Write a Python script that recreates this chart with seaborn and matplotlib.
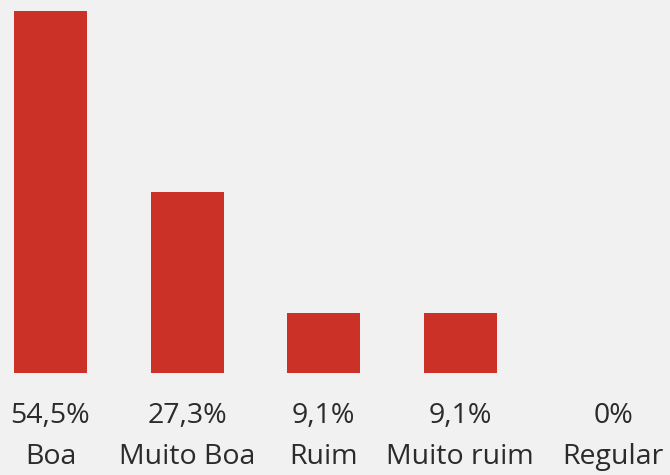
import matplotlib
matplotlib.use("Agg")
import matplotlib.pyplot as plt
import matplotlib.transforms as mtransforms
import seaborn as sns

categories = ["Boa", "Muito Boa", "Ruim", "Muito ruim", "Regular"]
values = [54.5, 27.3, 9.1, 9.1, 0.0]
value_labels = ["54,5%", "27,3%", "9,1%", "9,1%", "0%"]

bg = "#f1f1f1"
bar_color = "#cb3127"
text_color = "#2b2b2b"

sns.set_theme(style="white")
plt.rcParams["font.family"] = ["Open Sans", "DejaVu Sans"]

fig = plt.figure(figsize=(6.7, 4.75), dpi=100, facecolor=bg)
ax = fig.add_axes([0, 0, 1, 1])
ax.set_facecolor(bg)

sns.barplot(x=categories, y=values, color=bar_color, saturation=1,
            width=0.535, linewidth=0, edgecolor="none", ax=ax)

# horizontal extent: category spacing ~137 px, first centre at ~50 px
ppx = 136.6
ax.set_xlim(-50.5 / ppx, (670 - 50.5) / ppx)
# vertical extent: baseline at 373 px, tallest bar top at 11 px
ppu = 362 / max(values)
ax.set_ylim(-(475 - 373) / ppu, max(values) + 11 / ppu)
ax.axis("off")

trans = mtransforms.blended_transform_factory(ax.transData, ax.transAxes)
for i, (cat, lab) in enumerate(zip(categories, value_labels)):
    xpos = i
    if i == len(categories) - 1:
        xpos = i + 0.12  # keep last label inside the canvas
    ax.text(xpos, 1 - 423 / 475, lab, transform=trans, ha="center",
            va="baseline", fontsize=20.5, color=text_color)
    ax.text(xpos, 1 - 464 / 475, cat, transform=trans, ha="center",
            va="baseline", fontsize=20.5, color=text_color)

fig.savefig("out.png", dpi=100, facecolor=bg)
